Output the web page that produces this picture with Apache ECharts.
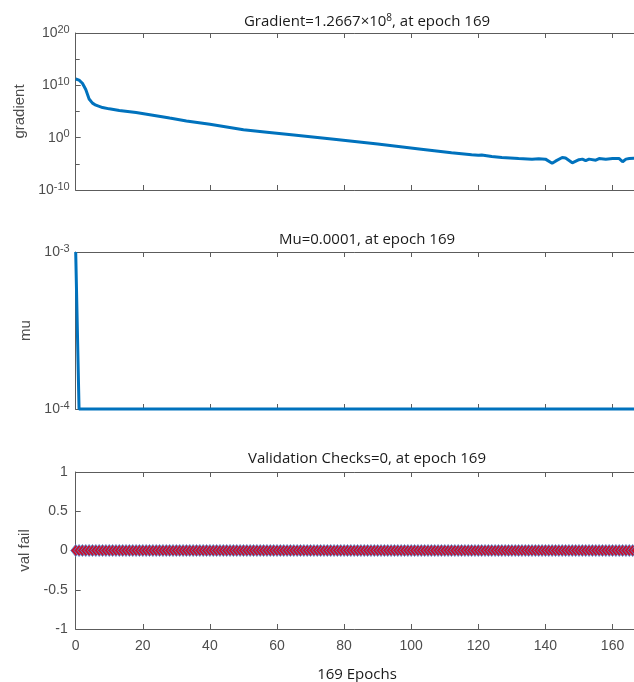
<!DOCTYPE html>
<html>
<head>
<meta charset="utf-8">
<script src="https://cdn.jsdelivr.net/npm/echarts@6/dist/echarts.min.js"></script>
<style>
html,body{margin:0;padding:0;background:#fff;}
#chart{width:634px;height:682px;}
</style>
</head>
<body>
<div id="chart"></div>
<script>
// ---- data ----
const gradEpochs = [0,1,2,3,4,5,6,8,10,13,18,23,28,33,40,50,57,65,77,90,103,112,118,120,121,124,127,132,136,138,140,142,143,145,146,148,150,151,152,153,155,156,158,160,162,163,164,165,167,169];
const gradValues = [1.6e11,1.0e11,2.5e10,1.6e9,2.5e7,4.0e6,1.6e6,5.6e5,3.2e5,1.6e5,6.3e4,2.0e4,5.6e3,1.6e3,355,32,11,3.2,0.5,0.063,6.3e-3,1.26e-3,5.6e-4,4.5e-4,5.0e-4,2.5e-4,1.6e-4,1.0e-4,7.9e-5,8.9e-5,7.9e-5,1.26e-5,3.2e-5,1.6e-4,1.26e-4,1.6e-5,6.3e-5,7.9e-5,4.0e-5,7.9e-5,5.0e-5,1.0e-4,7.9e-5,1.0e-4,1.0e-4,2.5e-5,7.9e-5,1.0e-4,1.26e-4,1.4e-4];
const muEpochs = [0,1,169];
const muValues = [1e-3,1e-4,1e-4];
const valEpochs = [];
for (let i = 0; i <= 169; i++) valEpochs.push(i);
const valFail = [0,0,0,0,0,0,0,0,0,0,0,0,0,0,0,0,0,0,0,0,0,0,0,0,0,0,0,0,0,0,0,0,0,0,0,0,0,0,0,0,0,0,0,0,0,0,0,0,0,0,0,0,0,0,0,0,0,0,0,0,0,0,0,0,0,0,0,0,0,0,0,0,0,0,0,0,0,0,0,0,0,0,0,0,0,0,0,0,0,0,0,0,0,0,0,0,0,0,0,0,0,0,0,0,0,0,0,0,0,0,0,0,0,0,0,0,0,0,0,0,0,0,0,0,0,0,0,0,0,0,0,0,0,0,0,0,0,0,0,0,0,0,0,0,0,0,0,0,0,0,0,0,0,0,0,0,0,0,0,0,0,0,0,0,0,0,0,0,0,0];
const xTicks = [0,20,40,60,80,100,120,140,160];
const gradTickExps = [-10,0,10,20];
const muTickExps = [-4,-3];
const valTicks = [-1,-0.5,0,0.5,1];
const titles = ['Gradient=1.2667\u00d710{s|8}, at epoch 169','Mu=0.0001, at epoch 169','Validation Checks=0, at epoch 169'];
const xLabelText = '169 Epochs';
const yNames = ['gradient','mu','val fail'];

// ---- chart ----
// the axes run to epoch 169, but the photograph is cropped at the window edge (~epoch 166.4)
const X_VISIBLE_MAX = 166.4;
const AX = '#5c5c5c';
const LBL = '#4d4d4d';
const gridsPx = [{top:33},{top:252},{top:472}];
const chart = echarts.init(document.getElementById('chart'));

function xAxisBottom(gi, showLabels){
  return {
    type:'value', gridIndex:gi, min:0, max:X_VISIBLE_MAX, interval:20, position:'bottom',
    axisLine:{show:true, onZero:false, lineStyle:{color:AX,width:1}},
    axisTick:{show:true, inside:true, length:5, lineStyle:{color:AX}},
    axisLabel:{show:showLabels, color:LBL, fontFamily:'Liberation Sans', fontSize:14, margin:10,
      showMaxLabel:false,
      formatter:v=> xTicks.indexOf(v)>=0 ? String(v) : ''},
    splitLine:{show:false}
  };
}
function xAxisTop(gi){
  return {
    type:'value', gridIndex:gi, min:0, max:X_VISIBLE_MAX, interval:20, position:'top',
    axisLine:{show:true, onZero:false, lineStyle:{color:AX,width:1}},
    axisTick:{show:true, inside:true, length:5, lineStyle:{color:AX}},
    axisLabel:{show:false}, splitLine:{show:false}
  };
}
const richSup = {
  b:{color:LBL, fontFamily:'Liberation Sans', fontSize:14},
  s:{color:LBL, fontFamily:'Liberation Sans', fontSize:11, verticalAlign:'bottom', padding:[0,0,7,0]}
};
function yLog(gi, min, max, exps, name, gap, minor){
  return {
    type:'value', gridIndex:gi, min:min, max:max, interval:(max-min)/(exps.length-1),
    name:name, nameLocation:'middle', nameGap:gap, nameRotate:90,
    nameTextStyle:{color:LBL, fontFamily:'Liberation Sans', fontSize:15},
    axisLine:{show:true, lineStyle:{color:AX,width:1}},
    axisTick:{show:true, inside:true, length:5, lineStyle:{color:AX}},
    minorTick:{show:minor, splitNumber:2, length:4, lineStyle:{color:AX}},
    axisLabel:{color:LBL, margin:6, rich:richSup,
      formatter:v=> '{b|10}{s|' + Math.round(v) + '}'},
    splitLine:{show:false}
  };
}

const option = {
  animation:false,
  backgroundColor:'#fff',
  title:[
    {text:titles[0], left:362, top:8, textAlign:'center',
     textStyle:{fontFamily:'Open Sans', fontSize:15, fontWeight:'normal', color:'#1a1a1a',
       rich:{s:{fontFamily:'Open Sans', fontSize:10, color:'#1a1a1a', verticalAlign:'bottom', padding:[0,0,7,0]}}}},
    {text:titles[1], left:362, top:227, textAlign:'center',
     textStyle:{fontFamily:'Open Sans', fontSize:15, fontWeight:'normal', color:'#1a1a1a'}},
    {text:titles[2], left:362, top:446, textAlign:'center',
     textStyle:{fontFamily:'Open Sans', fontSize:15, fontWeight:'normal', color:'#1a1a1a'}},
    {text:xLabelText, left:352, top:662, textAlign:'center',
     textStyle:{fontFamily:'Open Sans', fontSize:15, fontWeight:'normal', color:'#1a1a1a'}}
  ],
  grid: gridsPx.map(g=>({left:75.7, right:0, top:g.top, height:157, containLabel:false})),
  xAxis:[xAxisBottom(0,false), xAxisTop(0), xAxisBottom(1,false), xAxisTop(1), xAxisBottom(2,true), xAxisTop(2)],
  yAxis:[
    yLog(0, gradTickExps[0], gradTickExps[gradTickExps.length-1], gradTickExps, yNames[0], 43, true),
    yLog(1, muTickExps[0], muTickExps[muTickExps.length-1], muTickExps, yNames[1], 40, false),
    {
      type:'value', gridIndex:2, min:valTicks[0], max:valTicks[valTicks.length-1], interval:0.5,
      name:yNames[2], nameLocation:'middle', nameGap:31, nameRotate:90,
      nameTextStyle:{color:LBL, fontFamily:'Liberation Sans', fontSize:15},
      axisLine:{show:true, onZero:false, lineStyle:{color:AX,width:1}},
      axisTick:{show:true, inside:true, length:5, lineStyle:{color:AX}},
      axisLabel:{color:LBL, fontFamily:'Liberation Sans', fontSize:14, margin:8,
        formatter:v=> String(v)},
      splitLine:{show:false}
    }
  ],
  series:[
    {type:'line', xAxisIndex:0, yAxisIndex:0, showSymbol:false, smooth:false,
     lineStyle:{color:'#0072BD', width:3},
     data: gradEpochs.map((e,i)=>[e, Math.log10(gradValues[i])])},
    {type:'line', xAxisIndex:2, yAxisIndex:1, showSymbol:false, clip:false,
     lineStyle:{color:'#0072BD', width:3},
     data: muEpochs.map((e,i)=>[e, Math.log10(muValues[i])])},
    {type:'line', xAxisIndex:4, yAxisIndex:2, clip:false,
     symbol:'diamond', symbolSize:[10,12], showAllSymbol:true,
     lineStyle:{color:'#0072BD', width:2},
     itemStyle:{color:'#c8102e', borderColor:'#4a94d8', borderWidth:0.8},
     data: valEpochs.map((e,i)=>[e, valFail[i]])}
  ]
};
chart.setOption(option);
</script>
</body>
</html>
